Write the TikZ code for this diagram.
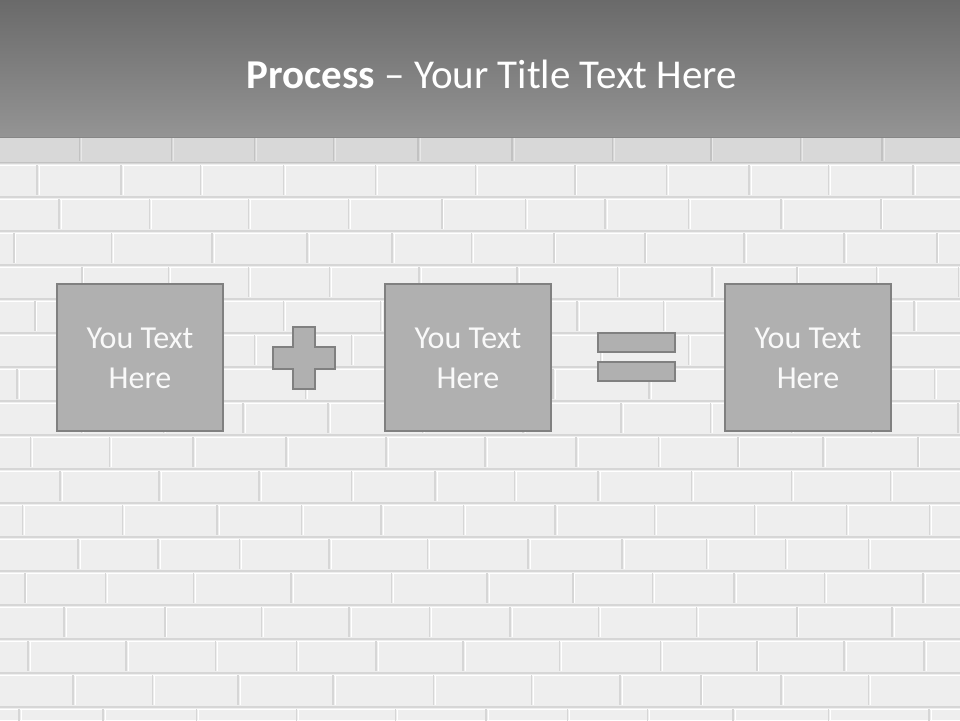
\documentclass[tikz,border=0pt]{standalone}
\usepackage{fontspec}
\setmainfont{Carlito}
\definecolor{wallc}{HTML}{EEEEEE}
\definecolor{mortar}{HTML}{D6D6D6}
\definecolor{titletop}{HTML}{6A6A6A}
\definecolor{titlebot}{HTML}{949494}
\definecolor{boxfill}{HTML}{B0B0B0}
\definecolor{boxline}{HTML}{808080}
\tikzset{
  joint/.style={draw=mortar, line width=1.5pt},
  hilite/.style={draw=white, line width=0.8pt},
  procbox/.style={draw=boxline, fill=boxfill, line width=2.8pt, minimum width=166pt, minimum height=147pt, inner sep=0pt},
  boxtext/.style={text=white!95!gray, font=\fontsize{32}{40}\selectfont, align=center},
  symb/.style={draw=boxline, fill=boxfill, line width=2.8pt}
}
\begin{document}
\begin{tikzpicture}[x=1pt,y=-1pt]
\useasboundingbox (0,0) rectangle (960,720);
% wall
\fill[wallc] (0,0) rectangle (960,720);
\foreach \r in {0,...,17}{
  \pgfmathsetmacro{\yy}{129+34*\r}
  \pgfmathsetmacro{\ya}{\yy+2}
  \pgfmathsetmacro{\yb}{\yy+32}
  \draw[hilite] (0,\yy+2) -- (960,\yy+2);
  \draw[joint] (0,\yy) -- (960,\yy);
  \foreach \k in {0,...,11}{
    \pgfmathsetmacro{\xx}{mod(\r,2)*45+90*\k+12*sin(\r*97+\k*53)-20}
    \draw[joint] (\xx,\ya) -- (\xx,\yb);
    \draw[hilite] (\xx+2,\ya) -- (\xx+2,\yb);
  }
}
% title bar
\shade[top color=titletop, bottom color=titlebot] (0,0) rectangle (960,137);
\fill[black, opacity=0.09] (0,137) rectangle (960,163);
\node[anchor=base, text=white, font=\fontsize{41}{48}\selectfont, inner sep=0pt] (title) at (492,88)
  {\textbf{Process} – Your Title Text Here};
% boxes
\node[procbox] (b1) at (140,357.5) {};
\node[procbox] (b2) at (468,357.5) {};
\node[procbox] (b3) at (808,357.5) {};
\foreach \b in {b1,b2,b3}{
  \node[boxtext, anchor=base] at ([yshift=9]\b.center) {You Text};
  \node[boxtext, anchor=base] at ([yshift=-31]\b.center) {Here};
}
% plus
\draw[symb] (293,327) -- (315,327) -- (315,347) -- (335,347) -- (335,369) -- (315,369)
  -- (315,389) -- (293,389) -- (293,369) -- (273,369) -- (273,347) -- (293,347) -- cycle;
% equals
\draw[symb] (598,333) rectangle (675,352);
\draw[symb] (598,362) rectangle (675,381);
\end{tikzpicture}
\end{document}
